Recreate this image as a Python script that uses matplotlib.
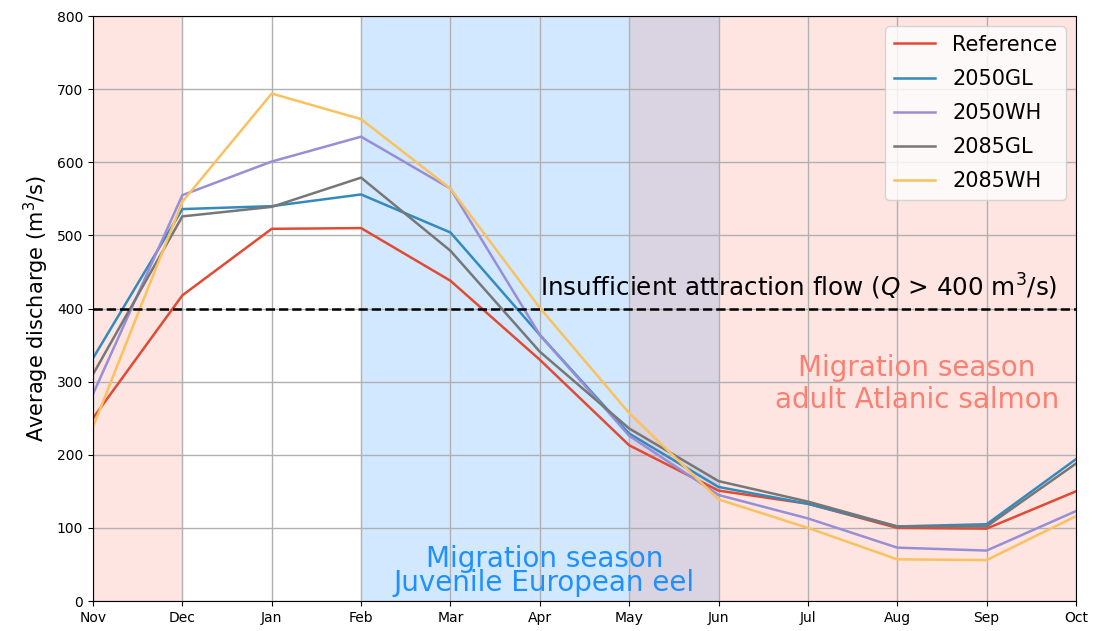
import matplotlib.pyplot as plt

# 月份（11月 - 10月）
months = ['Nov', 'Dec', 'Jan', 'Feb', 'Mar', 'Apr', 'May', 'Jun', 'Jul', 'Aug', 'Sep', 'Oct']

# 各情景月平均流量 (m3/s)
reference = [250, 418, 509, 510, 438, 330, 213, 151, 133, 100, 99, 150]
gl_2050 = [332, 536, 540, 556, 504, 364, 229, 156, 133, 102, 105, 194]
wh_2050 = [283, 555, 601, 635, 564, 364, 226, 145, 113, 73, 69, 123]
gl_2085 = [310, 526, 539, 579, 479, 341, 236, 164, 136, 102, 102, 188]
wh_2085 = [238, 546, 694, 659, 564, 401, 257, 139, 100, 57, 56, 116]

series = [('Reference', reference, '#E24A33'),
          ('2050GL', gl_2050, '#348ABD'),
          ('2050WH', wh_2050, '#988ED5'),
          ('2085GL', gl_2085, '#777777'),
          ('2085WH', wh_2085, '#FBC15E')]

threshold = 400

fig = plt.figure(figsize=(11.03, 6.31), dpi=100)
ax = fig.add_axes([0.0843, 0.0475, 0.8912, 0.9271])

x = range(len(months))

# 洄游季节背景
ax.axvspan(3, 7, color='dodgerblue', alpha=0.2, lw=0)
ax.axvspan(0, 1, color='salmon', alpha=0.2, lw=0)
ax.axvspan(6, 11, color='salmon', alpha=0.2, lw=0)

for name, vals, c in series:
    ax.plot(x, vals, color=c, lw=1.8, label=name)

ax.axhline(threshold, color='black', ls='--', lw=1.8)
ax.text(5, threshold + 9, 'Insufficient attraction flow ($Q$ > 400 m$^3$/s)',
        fontsize=17.7, ha='left', va='bottom')

ax.text(5.05, 6, 'Migration season\nJuvenile European eel', color='dodgerblue',
        fontsize=20, ha='center', va='bottom', linespacing=0.8)
ax.text(9.22, 297, 'Migration season\nadult Atlanic salmon', color='salmon',
        fontsize=20, ha='center', va='center')

ax.set_xticks(list(x))
ax.set_xticklabels(months)
ax.set_xlim(0, 11)
ax.set_ylim(0, 800)
ax.set_ylabel('Average discharge (m$^3$/s)', fontsize=15)
ax.grid(True, color='#b0b0b0', lw=1)
ax.legend(loc='upper right', fontsize=15, labelspacing=0.68)

plt.savefig('out.png', dpi=100)
